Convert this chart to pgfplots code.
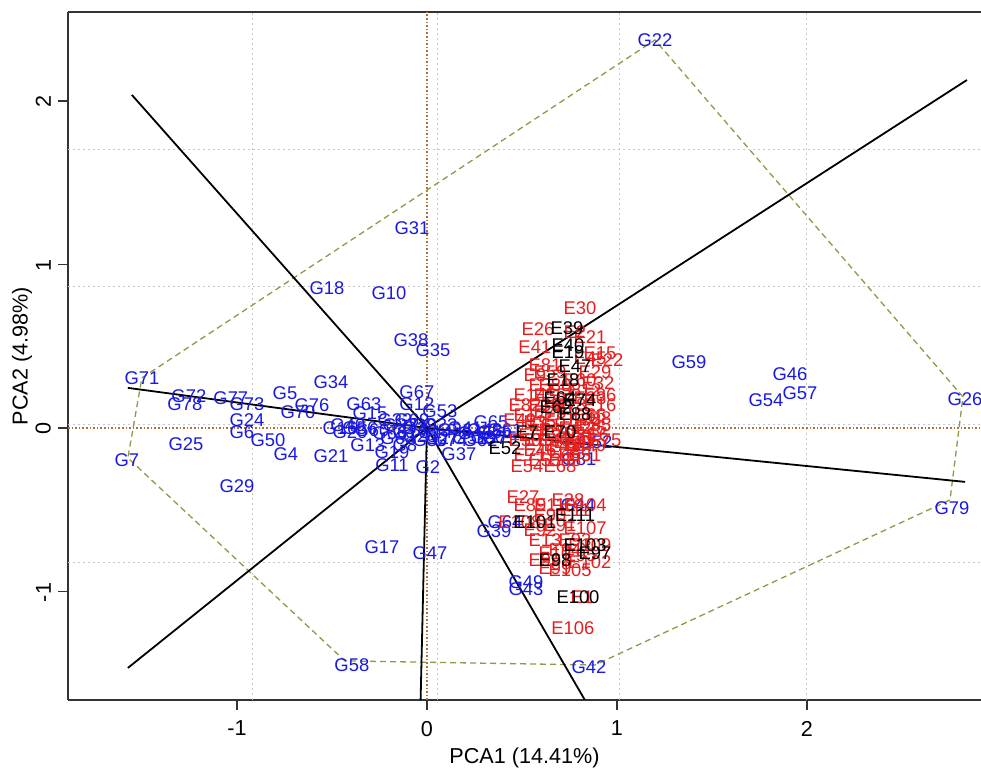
\documentclass[border=0pt]{standalone}
\usepackage{pgfplots}
\pgfplotsset{compat=1.18}
\usepackage{fontspec}
\setmainfont{Liberation Sans}
\definecolor{hullc}{RGB}{140,155,70}
\definecolor{zeroc}{RGB}{170,115,60}
\definecolor{gridc}{RGB}{200,200,200}
\definecolor{gblue}{RGB}{25,25,225}
\definecolor{ered}{RGB}{230,30,30}
\newcommand{\lblfont}{\fontsize{9.2}{10}\selectfont}
\begin{document}
\begin{tikzpicture}
\begin{axis}[
  scale only axis, width=456.5pt, height=344pt,
  xmin=-1.889, xmax=2.916, ymin=-1.664, ymax=2.544,
  axis x line*=bottom, axis y line*=left,
  axis line style={black!80, line width=0.8pt},
  tick style={black!80, line width=0.8pt},
  tick align=outside, major tick length=5pt,
  xtick={-1,0,1,2}, xticklabels={-1,0,1,2},
  ytick={-1,0,1,2}, yticklabels={-1,0,1,2},
  ticklabel style={font=\fontsize{10.8}{12}\selectfont},
  xticklabel style={yshift=-2pt},
  yticklabel style={rotate=90, anchor=south, xshift=-0.5pt},
  xlabel={PCA1 (14.41\%)}, ylabel={PCA2 (4.98\%)},
  label style={font=\fontsize{10.8}{12}\selectfont},
  xlabel style={at={(axis description cs:0.5,-0.0840)}, anchor=center},
  ylabel style={at={(axis description cs:-0.0504,0.5)}, anchor=center},
  clip=true,
]
\coordinate (ll) at (rel axis cs:0,0);
\coordinate (ur) at (rel axis cs:1,1);
\draw[black!80, line width=0.8pt] (rel axis cs:0,1) -- (rel axis cs:1,1);
% grid
\addplot[gridc, line width=0.5pt, dash pattern=on 1pt off 1.5pt] coordinates {(-0.916,-1.664) (-0.916,2.544)};
\addplot[gridc, line width=0.5pt, dash pattern=on 1pt off 1.5pt] coordinates {(0.053,-1.664) (0.053,2.544)};
\addplot[gridc, line width=0.5pt, dash pattern=on 1pt off 1.5pt] coordinates {(1.016,-1.664) (1.016,2.544)};
\addplot[gridc, line width=0.5pt, dash pattern=on 1pt off 1.5pt] coordinates {(1.995,-1.664) (1.995,2.544)};
\addplot[gridc, line width=0.5pt, dash pattern=on 1pt off 1.5pt] coordinates {(-1.889,1.70) (2.916,1.70)};
\addplot[gridc, line width=0.5pt, dash pattern=on 1pt off 1.5pt] coordinates {(-1.889,0.862) (2.916,0.862)};
\addplot[gridc, line width=0.5pt, dash pattern=on 1pt off 1.5pt] coordinates {(-1.889,0.018) (2.916,0.018)};
\addplot[gridc, line width=0.5pt, dash pattern=on 1pt off 1.5pt] coordinates {(-1.889,-0.826) (2.916,-0.826)};
% zero lines
\addplot[zeroc, line width=0.7pt, dash pattern=on 0.8pt off 1pt] coordinates {(0,-1.664) (0,2.544)};
\addplot[zeroc, line width=0.7pt, dash pattern=on 0.8pt off 1pt] coordinates {(-1.889,0) (2.916,0)};
% hull
\addplot[hullc, line width=0.65pt, dash pattern=on 3pt off 2pt] coordinates {
(-1.500,0.306) (1.200,2.373) (2.821,0.190) (2.753,-0.440) (0.884,-1.450) (-0.432,-1.425) (-1.574,-0.183) (-1.500,0.306)};
% vectors
\addplot[black, line width=0.9pt] coordinates {(0,0) (-1.553,2.037)};
\addplot[black, line width=0.9pt] coordinates {(0,0) (2.842,2.128)};
\addplot[black, line width=0.9pt] coordinates {(0,0) (-1.574,-1.468)};
\addplot[black, line width=0.9pt] coordinates {(0,0) (-1.574,0.245)};
\addplot[black, line width=0.9pt] coordinates {(0,0) (2.832,-0.330)};
\addplot[black, line width=0.9pt] coordinates {(0,0) (-0.035,-1.75)};
\addplot[black, line width=0.9pt] coordinates {(0,0) (0.874,-1.75)};
% G labels
\addplot[only marks, mark=none, point meta=explicit symbolic, nodes near coords,
  nodes near coords style={anchor=center, inner sep=0pt, font=\lblfont, text=gblue}]
table[meta=label] {
x y label
1.200 2.373 G22
-0.079 1.223 G31
-0.526 0.856 G18
-0.200 0.826 G10
-0.084 0.538 G38
0.032 0.477 G35
-1.500 0.306 G71
-1.253 0.196 G72
-1.274 0.147 G78
-1.032 0.183 G77
-0.947 0.147 G73
-0.747 0.214 G5
-0.505 0.281 G34
-0.605 0.141 G76
-0.679 0.098 G70
-0.332 0.147 G63
-0.300 0.092 G15
-0.168 0.049 G32
-0.053 0.220 G67
-0.053 0.147 G12
0.068 0.104 G53
-0.947 0.049 G24
-0.974 -0.024 G6
-0.837 -0.073 G50
-1.268 -0.098 G25
-1.579 -0.196 G7
-0.742 -0.159 G4
-0.505 -0.171 G21
-0.458 0.0 G16
-0.311 -0.104 G13
-0.184 -0.147 G19
-0.184 -0.226 G11
0.005 -0.239 G2
0.168 -0.159 G37
0.337 0.037 G65
-1.0 -0.355 G29
-0.237 -0.728 G17
0.016 -0.765 G47
0.353 -0.630 G39
0.521 -0.942 G49
0.521 -0.985 G43
-0.395 -1.450 G58
0.853 -1.462 G42
0.795 -0.471 G44
0.884 -0.086 G52
0.800 -0.190 G81
1.379 0.404 G59
1.911 0.330 G46
1.963 0.214 G57
1.784 0.171 G54
2.832 0.177 G26
2.763 -0.489 G79
-0.405 -0.024 G20
-0.353 0 G56
-0.289 -0.012 G60
-0.416 0.018 G40
-0.116 -0.024 G1
-0.063 0 G3
-0.116 -0.104 G8
-0.011 0.018 G9
0.042 -0.024 G14
0.068 0.018 G23
0.079 -0.061 G27
-0.037 -0.049 G28
0.016 -0.073 G30
-0.142 0.018 G33
0.147 -0.012 G36
0.200 0 G41
0.253 -0.031 G45
0.305 -0.012 G48
0.226 -0.061 G51
0.358 -0.024 G55
0.411 -0.012 G61
0.279 -0.073 G62
-0.195 -0.031 G66
-0.153 -0.061 G68
-0.079 0.049 G69
0.121 -0.073 G74
0.384 -0.061 G75
0.321 -0.055 G80
0.411 -0.575 G64
};
% red E labels
\addplot[only marks, mark=none, point meta=explicit symbolic, nodes near coords,
  nodes near coords style={anchor=center, inner sep=0pt, font=\lblfont, text=ered}]
table[meta=label] {
x y label
0.805 0.734 E30
0.584 0.606 E26
0.568 0.495 E41
0.779 0.587 E2
0.858 0.557 E21
0.911 0.459 E15
0.947 0.416 E22
0.858 0.428 E45
0.568 0.324 E9
0.884 0.343 E29
0.900 0.275 E32
0.595 0.263 E3
0.832 0.232 E12
0.542 0.202 E14
0.858 0.183 E33
0.621 0.141 E36
0.911 0.141 E16
0.911 0.061 E8
0.542 0.080 E17
0.900 -0.043 E6
0.858 0 E25
0.595 0.037 E35
0.779 0 E42
0.674 -0.073 E43
0.805 -0.104 E44
0.595 -0.135 E46
0.726 -0.147 E48
0.489 0.049 E49
0.516 -0.073 E50
0.832 -0.165 E51
0.621 -0.196 E53
0.526 -0.232 E54
0.700 -0.232 E68
0.779 -0.061 E55
0.647 0.202 E56
0.700 0.049 E57
0.726 0.232 E58
0.647 0.343 E59
0.805 0.294 E60
0.621 0.018 E61
0.779 -0.165 E63
0.568 -0.043 E65
0.858 0.080 E66
0.674 -0.012 E67
0.753 -0.086 E69
0.542 -0.165 E71
0.832 0.049 E72
0.647 0.098 E73
0.937 -0.073 E75
0.700 -0.104 E76
0.595 -0.073 E77
0.753 0.141 E78
0.858 -0.104 E79
0.674 0.263 E80
0.621 0.385 E81
0.516 0.141 E82
0.726 -0.196 E83
0.805 -0.043 E84
0.884 0.018 E85
0.911 0.202 E86
0.700 0.122 E87
0.505 -0.422 E27
0.742 -0.440 E28
0.779 -0.502 E11
0.832 -0.612 E107
0.621 -0.685 E13
0.674 -0.765 E10
0.858 -0.820 E102
0.674 -0.856 E99
0.768 -1.223 E106
0.816 -1.034 E1
0.542 -0.471 E89
0.647 -0.532 E90
0.700 -0.593 E91
0.595 -0.624 E92
0.779 -0.685 E93
0.726 -0.746 E94
0.805 -0.777 E95
0.621 -0.807 E96
0.832 -0.471 E104
0.753 -0.869 E105
0.489 -0.575 E108
0.858 -0.716 E109
0.674 -0.471 E110
};
% black E labels
\addplot[only marks, mark=none, point meta=explicit symbolic, nodes near coords,
  nodes near coords style={anchor=center, inner sep=0pt, font=\lblfont, text=black}]
table[meta=label] {
x y label
0.737 0.612 E39
0.742 0.508 E40
0.742 0.465 E19
0.779 0.379 E47
0.716 0.294 E18
0.805 0.171 E74
0.700 0.183 E64
0.679 0.128 E62
0.779 0.086 E88
0.700 -0.024 E70
0.526 -0.024 E7
0.411 -0.122 E52
0.779 -0.532 E111
0.568 -0.575 E101
0.832 -0.716 E103
0.884 -0.765 E97
0.674 -0.807 E98
0.795 -1.034 E100
};
\end{axis}
\pgfresetboundingbox
\useasboundingbox ([xshift=-34pt,yshift=-34.5pt]ll) rectangle ([yshift=6pt]ur);
\end{tikzpicture}
\end{document}
